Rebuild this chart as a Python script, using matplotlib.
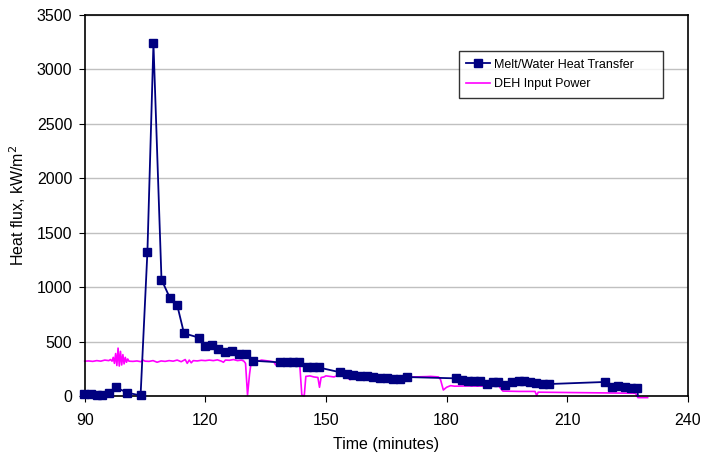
import matplotlib.pyplot as plt

plt.rcParams['font.family'] = ['Liberation Sans', 'DejaVu Sans']

# Melt/water heat transfer (minutes, kW/m2)
melt_t = [89.9, 91.5, 93.1, 94.4, 96.0, 97.7, 100.6, 103.9, 105.6, 107.1,
          109.1, 111.2, 113.0, 114.7, 118.4, 120.0, 121.6, 123.2, 125.0, 126.6,
          128.5, 130.0, 131.9, 138.6, 140.2, 141.8, 143.2, 145.2, 146.9, 148.2,
          153.5, 155.2, 156.8, 158.5, 160.1, 161.8, 163.5, 165.1, 166.8, 168.4,
          170.2, 182.4, 183.8, 185.4, 186.7, 188.3, 190.0, 191.6, 192.9, 194.6,
          196.2, 197.9, 199.3, 200.8, 202.3, 203.9, 205.6, 219.5, 221.2, 222.6,
          224.3, 225.9, 227.4, 227.6]
melt_q = [20, 15, 5, 5, 30, 80, 30, 5, 1325, 3240,
          1070, 900, 836, 576, 536, 459, 470, 430, 405, 410,
          390, 388, 324, 309, 309, 309, 309, 266, 266, 262,
          218, 200, 193, 184, 181, 174, 168, 165, 159, 156,
          174, 162, 147, 138, 138, 138, 113, 126, 126, 101,
          126, 135, 141, 126, 119, 113, 110, 129, 80, 89,
          80, 71, 77, 0]

# DEH input power (minutes, kW/m2)
deh_t = [90, 91, 92, 93, 94, 95, 96, 96.4, 96.8, 97.1,
         97.4, 97.7, 98.0, 98.3, 98.6, 98.9, 99.2, 99.5, 99.8, 100.1,
         100.4, 100.7, 101.0, 102, 103, 104, 104.5, 105, 106, 107, 108,
         109, 110, 111, 112, 113, 114, 115, 115.5, 116, 116.5,
         117, 118, 119, 120, 121, 122, 123, 124, 124.5, 125,
         126, 127, 128, 129, 129.6, 130, 130.5, 131, 131.4, 132,
         132.5, 133, 134, 135, 136, 137, 137.5, 138, 139, 140,
         141, 142, 143, 143.5, 144, 144.6, 145, 146, 147, 148,
         148.4, 148.8, 149.5, 150, 151, 152, 153, 154, 155, 156,
         156.5, 157, 160, 165, 170, 172, 175, 176, 178, 178.5,
         179.2, 180, 181, 182, 185, 190, 193, 194, 198, 202,
         202.4, 202.8, 210, 220, 227, 227.6, 230]
deh_q = [320, 322, 318, 325, 320, 330, 325, 335, 320, 355,
         300, 390, 280, 440, 275, 410, 285, 380, 295, 355,
         310, 340, 320, 318, 322, 315, 330, 320, 318, 325, 310,
         322, 318, 325, 320, 330, 315, 335, 300, 330, 305,
         325, 322, 328, 325, 330, 325, 332, 320, 310, 330,
         328, 335, 325, 330, 320, 300, 10, 200, 310, 315,
         290, 320, 330, 325, 320, 315, 285, 300, 305, 300,
         310, 305, 300, 280, 10, 0, 180, 185, 175, 170,
         80, 170, 175, 185, 180, 175, 190, 185, 175, 150,
         175, 180, 178, 175, 172, 175, 178, 180, 175, 150,
         55, 80, 95, 90, 92, 90, 90, 45, 42, 42,
         5, 35, 32, 28, 25, -15, -15]

fig, ax = plt.subplots(figsize=(7.04, 4.57), dpi=100)
fig.subplots_adjust(left=0.1203, right=0.977, bottom=0.1335, top=0.967)

ax.plot(melt_t, melt_q, color='#000080', lw=1.3, marker='s', markersize=5.5,
        markevery=list(range(len(melt_t) - 1)), label='Melt/Water Heat Transfer',
        zorder=3, clip_on=False)
ax.plot(deh_t, deh_q, color='#FF00FF', lw=1.2, label='DEH Input Power',
        zorder=2, clip_on=False)

ax.set_xlim(90, 240)
ax.set_ylim(0, 3500)
ax.set_xticks(range(90, 241, 30))
ax.set_yticks(range(0, 3501, 500))
ax.yaxis.grid(True, color='#c0c0c0', lw=1)
ax.set_axisbelow(True)
for s in ax.spines.values():
    s.set_color('black')
    s.set_linewidth(1.2)
ax.tick_params(direction='out', length=4, labelsize=11.5, colors='black')
ax.tick_params(axis='x', pad=8)
ax.tick_params(axis='y', pad=5)

ax.set_xlabel('Time (minutes)', fontsize=11.5, labelpad=7)
ax.set_ylabel('Heat flux, kW/m$^2$', fontsize=11.5, labelpad=6)

leg = ax.legend(loc='upper left', bbox_to_anchor=(0.6204, 0.0, 0.338, 0.9055),
                mode='expand', fontsize=9,
                frameon=True, fancybox=False, edgecolor='black',
                handlelength=1.9, borderpad=0.6, labelspacing=0.6,
                handletextpad=0.3, borderaxespad=0)
leg.get_frame().set_linewidth(1)

plt.savefig('out.png')
